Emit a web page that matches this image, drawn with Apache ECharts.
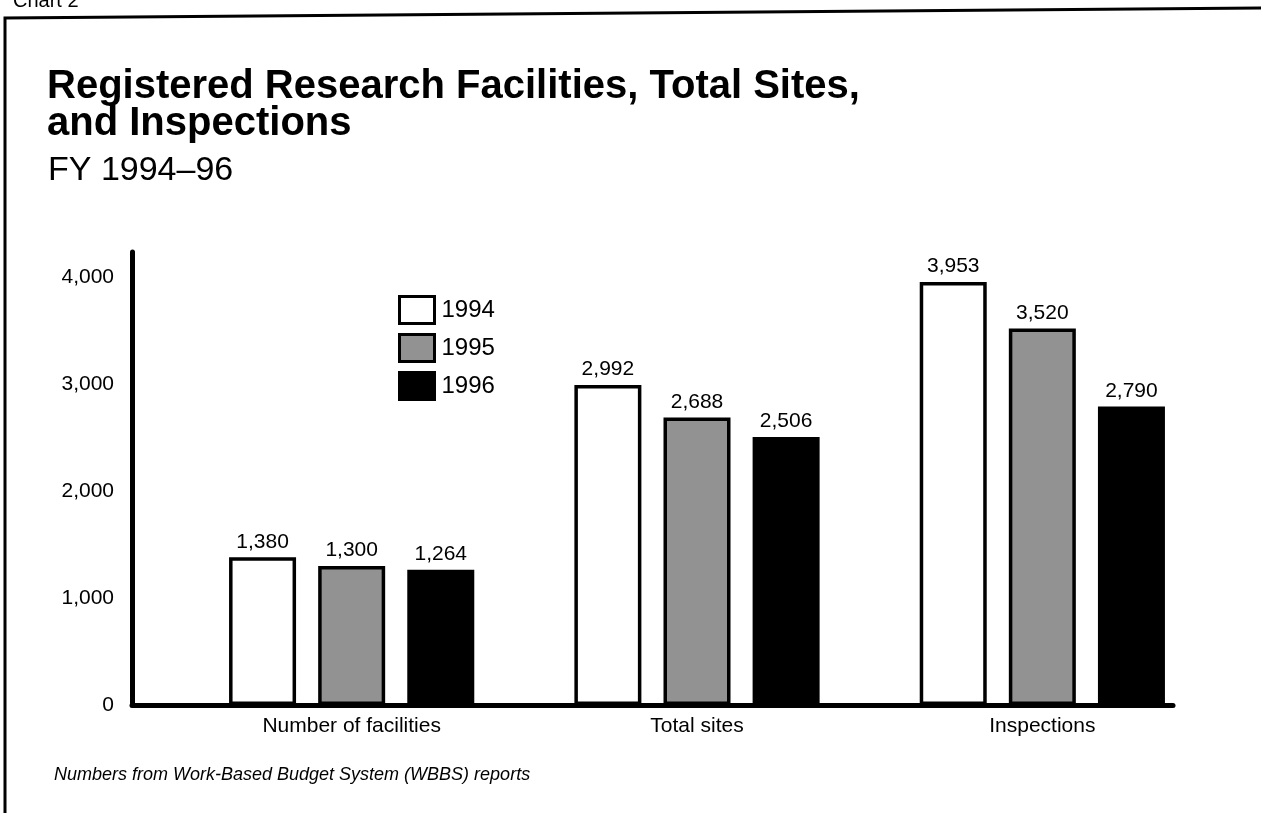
<!DOCTYPE html>
<html>
<head>
<meta charset="utf-8">
<script src="https://cdn.jsdelivr.net/npm/echarts@6/dist/echarts.min.js"></script>
<style>
html,body{margin:0;padding:0;background:#fff;}
#chart{width:1261px;height:813px;}
</style>
</head>
<body>
<div id="chart"></div>
<script>
const categories = ['Number of facilities', 'Total sites', 'Inspections'];
const years = ['1994', '1995', '1996'];
const values1994 = [1380, 2992, 3953];
const values1995 = [1300, 2688, 3520];
const values1996 = [1264, 2506, 2790];
const yMax = 4234;
const yInterval = 1000;

const fmt = v => Number(v).toLocaleString('en-US');
const FONT = 'Liberation Sans, Arial, Helvetica, sans-serif';

const fills = ['#ffffff', '#929292', '#000000'];
const seriesValues = [values1994, values1995, values1996];

const chart = echarts.init(document.getElementById('chart'), null, {renderer: 'canvas'});

const series = years.map((y, i) => ({
  name: y,
  type: 'bar',
  xAxisIndex: 0,
  yAxisIndex: 0,
  data: seriesValues[i],
  barWidth: 67,
  barGap: '33%',
  itemStyle: {color: fills[i], borderColor: '#000', borderWidth: 3.5},
  label: {
    show: true, position: 'top', distance: 5,
    formatter: p => fmt(p.value),
    fontFamily: FONT, fontSize: 21, color: '#000'
  },
  emphasis: {disabled: true}
}));

chart.setOption({
  animation: false,
  backgroundColor: '#fff',
  title: [
    {text: 'Chart 2', left: 8, top: -14, textStyle: {fontFamily: FONT, fontSize: 20, fontWeight: 'normal', color: '#000'}},
    {text: 'Registered Research Facilities, Total Sites,\nand Inspections', left: 42, top: 63,
     textStyle: {fontFamily: FONT, fontSize: 40, fontWeight: 'bold', lineHeight: 37, color: '#000'}},
    {text: 'FY 1994\u201396', left: 43, top: 149, textStyle: {fontFamily: FONT, fontSize: 34, fontWeight: 'normal', color: '#000'}},
    {text: 'Numbers from Work-Based Budget System (WBBS) reports', left: 49, top: 761,
     textStyle: {fontFamily: FONT, fontSize: 18, fontStyle: 'italic', fontWeight: 'normal', color: '#000'}}
  ],
  legend: {
    orient: 'vertical', left: 398, top: 295, padding: 0,
    itemWidth: 35, itemHeight: 27, itemGap: 8,
    icon: 'rect',
    textStyle: {fontFamily: FONT, fontSize: 24, color: '#000', padding: [0, 0, 0, 2]},
    data: years.map((y, i) => ({name: y, itemStyle: {color: fills[i], borderColor: '#000', borderWidth: 3}}))
  },
  grid: [
    {left: 179, right: 46, top: 252, bottom: 108},
    {left: 132, right: 88, top: 252, bottom: 108}
  ],
  xAxis: [
    {type: 'category', gridIndex: 0, data: categories,
     axisLine: {show: false}, axisTick: {show: false},
     axisLabel: {fontFamily: FONT, fontSize: 21, color: '#000', margin: 11}},
    {type: 'value', gridIndex: 1, min: 0, max: 1,
     axisLine: {show: true, lineStyle: {color: '#000', width: 5}},
     axisTick: {show: false}, axisLabel: {show: false}, splitLine: {show: false}}
  ],
  yAxis: [
    {type: 'value', gridIndex: 0, min: 0, max: yMax, show: false, splitLine: {show: false}},
    {type: 'value', gridIndex: 1, min: 0, max: yMax, interval: yInterval,
     axisLine: {show: true, lineStyle: {color: '#000', width: 5}},
     axisTick: {show: false}, splitLine: {show: false},
     axisLabel: {fontFamily: FONT, fontSize: 21, color: '#000', margin: 18,
       formatter: v => (v % yInterval === 0 ? fmt(v) : '')}}
  ],
  graphic: [
    {type: 'polyline', shape: {points: [[5, 813], [5, 18], [1261, 8]]},
     style: {stroke: '#000', lineWidth: 3, fill: null}, z: 10}
  ],
  series: series
});
</script>
</body>
</html>
